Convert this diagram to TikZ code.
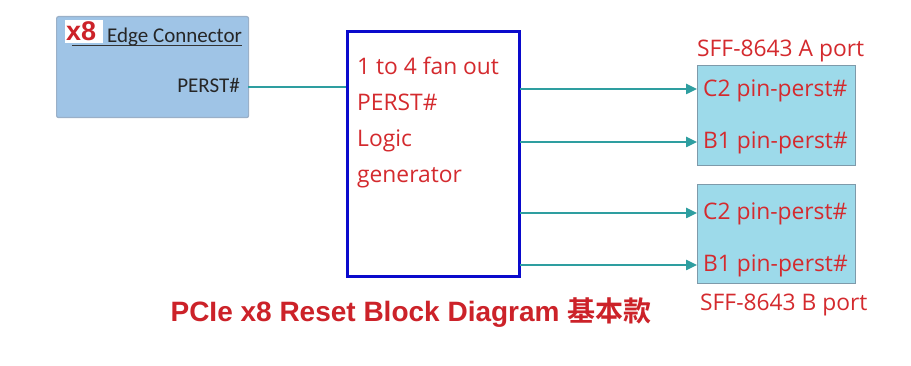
\documentclass[tikz,border=0pt]{standalone}
\usepackage{fontspec}
\setmainfont{Open Sans}
\newfontfamily\carlito{Carlito}
\newfontfamily\arialb{Liberation Sans}[BoldFont={Liberation Sans Bold}]
\newfontfamily\cjk{Noto Sans CJK TC}[BoldFont={Noto Sans CJK TC Bold}]
\usetikzlibrary{arrows.meta}
\definecolor{txtred}{HTML}{D42A2E}
\definecolor{ttlred}{HTML}{CC2229}
\definecolor{teal1}{HTML}{2E9EA0}
\definecolor{edgefill}{HTML}{9FC4E6}
\definecolor{edgedraw}{HTML}{9AB0C8}
\definecolor{portfill}{HTML}{9DDAEA}
\definecolor{portdraw}{HTML}{7E9AAA}
\definecolor{boxblue}{HTML}{0A0ACC}
\tikzset{
  redtxt/.style={text=txtred, font=\fontsize{22.8}{26}\selectfont, inner sep=0pt},
  conn/.style={draw=teal1, line width=2.4pt},
  arr/.style={conn, -{Triangle[length=11pt,width=10pt]}},
  portbox/.style={draw=portdraw, fill=portfill, line width=1.2pt, inner sep=0pt},
}
\begin{document}
\begin{tikzpicture}[x=1pt,y=-1pt]
\useasboundingbox[fill=white] (0,0) rectangle (911,366);
% edge connector
\node[draw=edgedraw, fill=edgefill, line width=1.2pt, rounded corners=2pt, minimum width=192pt, minimum height=101pt, inner sep=0pt, anchor=north west] (edge) at (56,16) {};
\node[fill=white, minimum width=38pt, minimum height=23pt, inner sep=0pt, anchor=north west] (x8bg) at (65,20) {};
\node[text=ttlred, font=\arialb\bfseries\fontsize{27}{27}\selectfont, inner sep=0pt, anchor=base west] (x8) at (66,41) {x8};
\node[font=\carlito\fontsize{21}{24}\selectfont, text=black!85, inner sep=0pt, anchor=base west] (edgelbl) at (107,43) {Edge Connector};
\coordinate (ulA) at (72,45.5);
\coordinate (ulB) at (242,45.5);
\draw[black!80, line width=1.4pt] (ulA) -- (ulB);
\node[font=\carlito\fontsize{21}{24}\selectfont, text=black!85, inner sep=0pt, anchor=base east] (perstin) at (240,93) {PERST\#};
\coordinate (edgeout) at (248,87);
% main box
\node[draw=boxblue, line width=3pt, minimum width=172pt, minimum height=245pt, inner sep=0pt, anchor=north west] (logic) at (346,30) {};
\node[redtxt, anchor=base west] (l1) at (357,75) {1 to 4 fan out};
\node[redtxt, anchor=base west] (l2) at (357,111) {PERST\#};
\node[redtxt, anchor=base west] (l3) at (357,147) {Logic};
\node[redtxt, anchor=base west] (l4) at (357,183) {generator};
\draw[conn] (edgeout) -- (edgeout -| logic.west);
% ports
\node[portbox, minimum width=158pt, minimum height=100pt, anchor=north west] (pa) at (697,65) {};
\node[portbox, minimum width=158pt, minimum height=99pt, anchor=north west] (pb) at (697,184) {};
\node[redtxt, anchor=base west] (palbl) at (697,57) {SFF-8643 A port};
\node[redtxt, anchor=base west] (pbLbl) at (700,311) {SFF-8643 B port};
\node[redtxt, anchor=base west] (pa1) at (703,97) {C2 pin-perst\#};
\node[redtxt, anchor=base west] (pa2) at (703,149) {B1 pin-perst\#};
\node[redtxt, anchor=base west] (pb1) at (703,220) {C2 pin-perst\#};
\node[redtxt, anchor=base west] (pb2) at (703,272) {B1 pin-perst\#};
\coordinate (a1) at (520,89);
\coordinate (a2) at (520,142);
\coordinate (a3) at (520,213);
\coordinate (a4) at (520,265);
\draw[arr] (a1) -- (a1 -| pa.west);
\draw[arr] (a2) -- (a2 -| pa.west);
\draw[arr] (a3) -- (a3 -| pb.west);
\draw[arr] (a4) -- (a4 -| pb.west);
% title
\node[text=ttlred, inner sep=0pt, anchor=base] (title) at (411,322) {\arialb\bfseries\fontsize{28}{30}\selectfont PCIe x8 Reset Block Diagram {\cjk\bfseries 基本款}};
\end{tikzpicture}
\end{document}
